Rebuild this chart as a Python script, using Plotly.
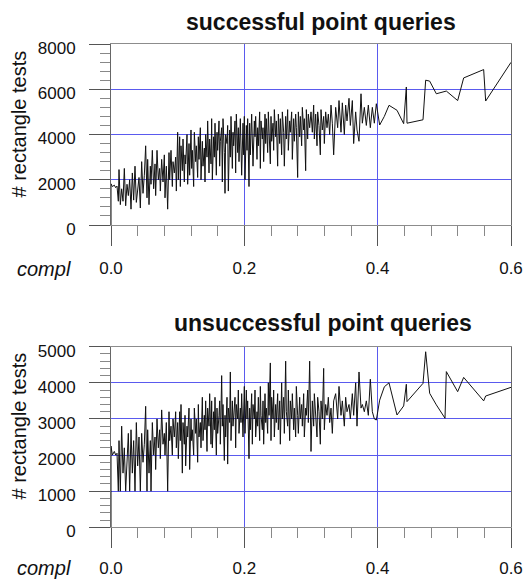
import plotly.graph_objects as go

W, H = 524, 579

# shared complexity values (x) for both query types
compl = [
    0.000, 0.000, 0.002, 0.005, 0.007, 0.009, 0.011, 0.012, 0.014, 0.016, 0.018, 0.020, 0.022, 0.024,
    0.026, 0.028, 0.030, 0.032, 0.034, 0.036, 0.038, 0.040, 0.042, 0.044, 0.046, 0.048, 0.050,
    0.052, 0.054, 0.055, 0.057, 0.059, 0.060, 0.062, 0.064, 0.066, 0.067, 0.069, 0.071, 0.073, 0.074,
    0.076, 0.078, 0.080, 0.081, 0.083, 0.085, 0.087, 0.088, 0.090, 0.092, 0.093, 0.095, 0.097, 0.098, 0.100,
    0.101, 0.103, 0.104, 0.105, 0.107, 0.108, 0.110, 0.111, 0.112, 0.114, 0.115, 0.117, 0.118, 0.120,
    0.121, 0.122, 0.124, 0.125, 0.127, 0.128, 0.130, 0.131, 0.132, 0.134, 0.135, 0.137, 0.138, 0.140,
    0.141, 0.142, 0.144, 0.145, 0.147, 0.148, 0.150,
    0.151, 0.152, 0.154, 0.155, 0.156, 0.158, 0.159, 0.160, 0.162, 0.163, 0.164, 0.166, 0.167, 0.168,
    0.170, 0.171, 0.172, 0.174, 0.175, 0.176, 0.178, 0.179, 0.180, 0.182, 0.183, 0.184, 0.186, 0.187,
    0.188, 0.190, 0.191, 0.192, 0.194, 0.195, 0.196, 0.198, 0.199, 0.200,
    0.201, 0.203, 0.204, 0.205, 0.207, 0.208, 0.209, 0.211, 0.212, 0.213, 0.215, 0.216, 0.217, 0.219,
    0.220, 0.221, 0.223, 0.224, 0.225, 0.227, 0.228, 0.229, 0.231, 0.232, 0.233, 0.235, 0.236, 0.237,
    0.239, 0.240, 0.241, 0.243, 0.244, 0.245, 0.247, 0.248, 0.250,
    0.251, 0.253, 0.254, 0.256, 0.257, 0.259, 0.260, 0.262, 0.263, 0.265, 0.266, 0.268, 0.269, 0.271,
    0.272, 0.274, 0.275, 0.277, 0.278, 0.280, 0.281, 0.283, 0.284, 0.286, 0.287, 0.289, 0.290, 0.292,
    0.293, 0.295, 0.296, 0.298, 0.300,
    0.302, 0.304, 0.305, 0.307, 0.309, 0.310, 0.312, 0.314, 0.315, 0.317, 0.319, 0.320, 0.322, 0.324,
    0.326, 0.328, 0.330, 0.332, 0.334,
    0.337, 0.340, 0.342, 0.345, 0.347, 0.350, 0.352, 0.354, 0.357, 0.359, 0.362, 0.364, 0.367, 0.369,
    0.372, 0.375, 0.377, 0.380, 0.383, 0.386, 0.389, 0.392, 0.395,
    0.398, 0.403, 0.410, 0.417, 0.429, 0.439, 0.443, 0.444, 0.468, 0.472, 0.478, 0.488, 0.501, 0.503,
    0.520, 0.529, 0.559, 0.562, 0.600,
]

# rectangle tests, successful point queries
successful = [
    0, 1820, 1700, 1760, 1650, 1720, 1050, 2450, 900, 1600, 1050, 2500, 850, 1800,
    1300, 2000, 700, 2300, 1100, 2600, 1000, 1700, 2100, 750, 2800, 1400, 2200,
    3500, 1200, 2900, 900, 2600, 1800, 3300, 1600, 2700, 1300, 3300, 2000, 2500, 1500,
    2900, 1900, 3100, 1200, 2600, 700, 3200, 2000, 3300, 1700, 2800, 2300, 3000, 1500, 4100,
    2000, 3900, 1700, 3500, 2400, 3800, 1900, 3100, 2700, 4000, 1800, 3600, 2200, 4200,
    2500, 3300, 1700, 4100, 2800, 3500, 2100, 3900, 2900, 4300, 2000, 3700, 2600, 3400,
    1900, 4000, 3000, 4600, 2300, 3800, 2700,
    4700, 2000, 3900, 3000, 4500, 2200, 4100, 3300, 4600, 2600, 3700, 4300, 1900, 4700,
    3200, 1400, 4000, 3600, 4400, 1500, 4200, 3000, 4800, 2500, 4100, 3500, 4600, 2300,
    4900, 3200, 4300, 2800, 4700, 3600, 2200, 4500, 3100, 4800,
    2000, 4400, 3300, 4700, 1700, 4500, 3100, 4900, 3600, 2600, 4600, 3900, 4800, 2900,
    4300, 3500, 5000, 2500, 4600, 3800, 4300, 2800, 4900, 3600, 4700, 3200, 5000, 4000,
    2700, 4800, 3700, 4500, 3300, 5100, 3900, 4600, 2600,
    4900, 3600, 4700, 3100, 5000, 4100, 2600, 4800, 3800, 5100, 3300, 4600, 4100, 5000,
    2900, 4700, 3700, 4900, 4300, 2100, 5000, 3900, 4800, 3500, 5200, 4200, 4700, 2400,
    5100, 3800, 4900, 4300, 5000,
    4100, 5300, 3800, 4900, 3500, 5000, 4400, 3100, 5100, 4200, 4800, 3600, 5000, 4300,
    4900, 4000, 5300, 4500, 3100,
    5200, 4300, 5500, 4100, 5400, 4000, 5300, 4600, 5600, 4400, 5500, 3600, 5000, 4200,
    3700, 5800, 4500, 5200, 4400, 5300, 4300, 5200, 4500,
    5360, 4420, 4800, 5290, 5070, 4480, 6100, 4500, 4650, 6400, 6360, 5800, 5900, 5920,
    5500, 6500, 6870, 5480, 7190,
]

# rectangle tests, unsuccessful point queries
unsuccessful = [
    0, 2250, 2000, 2100, 2000, 2050, 1000, 2400, 1000, 2800, 1500, 2200, 1000, 1900,
    2600, 1000, 2700, 1500, 2400, 1000, 2900, 1700, 2500, 1000, 2600, 1800, 2300,
    3350, 1000, 2700, 1500, 2400, 1000, 2900, 2000, 2500, 1600, 3000, 2200, 2700, 1900,
    3250, 2300, 2600, 2000, 2900, 1000, 3200, 2400, 2800, 2000, 3000, 2500, 3200, 2200, 2900,
    1900, 3200, 2400, 3400, 1500, 2900, 2300, 3100, 1700, 2800, 2500, 3300, 1600, 3000,
    2400, 2700, 2000, 3300, 2600, 3000, 1800, 3400, 2500, 2900, 2200, 3600, 2400, 3100,
    2700, 3500, 2100, 3300, 2800, 3700, 2300,
    3500, 2200, 3200, 2700, 3600, 2000, 3300, 2600, 3100, 3500, 2300, 4200, 2800, 3400,
    1850, 3100, 2500, 3600, 1750, 3300, 2900, 4300, 2400, 3500, 2800, 3200, 3600, 2200,
    3400, 3000, 3800, 2600, 3300, 2900, 3700, 2500, 3100, 3900,
    2600, 3800, 3000, 3500, 1900, 3300, 2700, 3700, 2300, 3400, 3000, 3800, 2500, 3200,
    2800, 3600, 2400, 3900, 3100, 2700, 3500, 2300, 3700, 2900, 3300, 2600, 4000, 3100,
    4550, 2400, 3600, 3000, 3800, 2500, 3400, 2900, 3700,
    2700, 3500, 2300, 4000, 3000, 3600, 2600, 4600, 3200, 2800, 3800, 2400, 3500, 3000,
    3700, 2700, 3300, 2500, 3900, 3100, 2600, 3600, 3000, 3400, 2800, 3700, 2500, 3300,
    3100, 3800, 2900, 4600, 2100,
    3500, 2800, 3700, 3100, 2500, 3600, 3200, 2300, 3500, 3000, 4400, 2700, 3400, 3100,
    3600, 2900, 3300, 2600, 3500,
    3700, 3000, 3900, 3100, 3500, 2800, 3600, 3200, 3400, 3000, 3700, 3100, 4000, 2800,
    4300, 3300, 3400, 3200, 3500, 3100, 4100, 3200, 3000,
    2970, 3520, 3890, 4000, 3110, 3360, 3960, 3480, 3985, 4860, 3710, 3390, 3020, 4310,
    3755, 4150, 3500, 3635, 3875,
]

# axis tick settings
x_major = [0.0, 0.2, 0.4, 0.6]
x_minor = [0.04, 0.08, 0.12, 0.16, 0.24, 0.28, 0.32, 0.36, 0.44, 0.48, 0.52, 0.56]
y1_major = [0, 2000, 4000, 6000, 8000]
y1_minor = [400, 800, 1200, 1600, 2400, 2800, 3200, 3600, 4400, 4800, 5200, 5600,
            6400, 6800, 7200, 7600]
y2_major = [0, 1000, 2000, 3000, 4000, 5000]
y2_minor = [200, 400, 600, 800, 1200, 1400, 1600, 1800, 2200, 2400, 2600, 2800,
            3200, 3400, 3600, 3800, 4200, 4400, 4600, 4800]

titles = ["successful point queries", "unsuccessful point queries"]
y_title = "# rectangle tests"
x_title = "compl"

FONT = "Liberation Sans, Arial, sans-serif"
GRID = "#5a5aee"


def px_x(v):
    return v / W


def px_y(v):
    return 1 - v / H


fig = go.Figure()
fig.add_trace(go.Scatter(x=compl, y=successful, mode="lines",
                         line=dict(color="#111111", width=1.0),
                         xaxis="x", yaxis="y", showlegend=False))
fig.add_trace(go.Scatter(x=compl, y=unsuccessful, mode="lines",
                         line=dict(color="#111111", width=1.0),
                         xaxis="x2", yaxis="y2", showlegend=False))

xdom = [px_x(111), px_x(511)]


def xaxis_cfg(anchor, standoff):
    return dict(
        domain=xdom, range=[0, 0.6], anchor=anchor,
        tickmode="array", tickvals=x_major, ticktext=["%.1f" % v for v in x_major],
        ticks="outside", ticklen=20, tickwidth=1, tickcolor="#555555",
        minor=dict(tickmode="array", tickvals=x_minor, ticks="outside",
                   ticklen=10, tickcolor="#888888", showgrid=False),
        showgrid=True, gridcolor=GRID, gridwidth=1,
        showline=True, mirror=True, linecolor="#8c8c8c", linewidth=1,
        zeroline=False, ticklabelstandoff=standoff,
        tickfont=dict(family=FONT, size=17, color="#111111"),
    )


def yaxis_cfg(anchor, dom, top, major, minor):
    return dict(
        domain=dom, range=[0, top], anchor=anchor,
        tickmode="array", tickvals=major, ticktext=[str(v) for v in major],
        ticks="outside", ticklen=21, tickwidth=1, tickcolor="#555555",
        minor=dict(tickmode="array", tickvals=minor, ticks="outside",
                   ticklen=10, tickcolor="#888888", showgrid=False),
        showgrid=True, gridcolor=GRID, gridwidth=1,
        showline=True, mirror=True, linecolor="#666666", linewidth=1,
        zeroline=False, ticklabelstandoff=10, ticklabelshift=4,
        tickfont=dict(family=FONT, size=17, color="#111111"),
    )


fig.update_layout(
    width=W, height=H,
    margin=dict(l=0, r=0, t=0, b=0, autoexpand=False),
    paper_bgcolor="white", plot_bgcolor="white",
    xaxis=xaxis_cfg("y", 8),
    yaxis=yaxis_cfg("x", [px_y(225), px_y(44)], 8000, y1_major, y1_minor),
    xaxis2=xaxis_cfg("y2", 5),
    yaxis2=yaxis_cfg("x2", [px_y(527.3), px_y(346.7)], 5000, y2_major, y2_minor),
)

annotations = [
    dict(text="<b>" + titles[0] + "</b>", x=px_x(321), y=px_y(21.5)),
    dict(text="<b>" + titles[1] + "</b>", x=px_x(322.5), y=px_y(323.3)),
]
for a in annotations:
    a.update(xref="paper", yref="paper", xanchor="center", yanchor="middle",
             showarrow=False, font=dict(family=FONT, size=23, color="#111111"))

for yc in (124, 426):
    annotations.append(dict(text=y_title, x=px_x(18.5), y=px_y(yc), xref="paper", yref="paper",
                            xanchor="center", yanchor="middle", textangle=-90, showarrow=False,
                            font=dict(family=FONT, size=20, color="#111111")))
for yc in (269, 568):
    annotations.append(dict(text="<i>" + x_title + "</i>", x=px_x(44), y=px_y(yc), xref="paper", yref="paper",
                            xanchor="center", yanchor="middle", showarrow=False,
                            font=dict(family=FONT, size=20, color="#111111")))

fig.update_layout(annotations=annotations)

fig.write_html("out.html", config={"displayModeBar": False},
               post_script="document.body.style.margin='0';document.body.style.overflow='hidden';")
